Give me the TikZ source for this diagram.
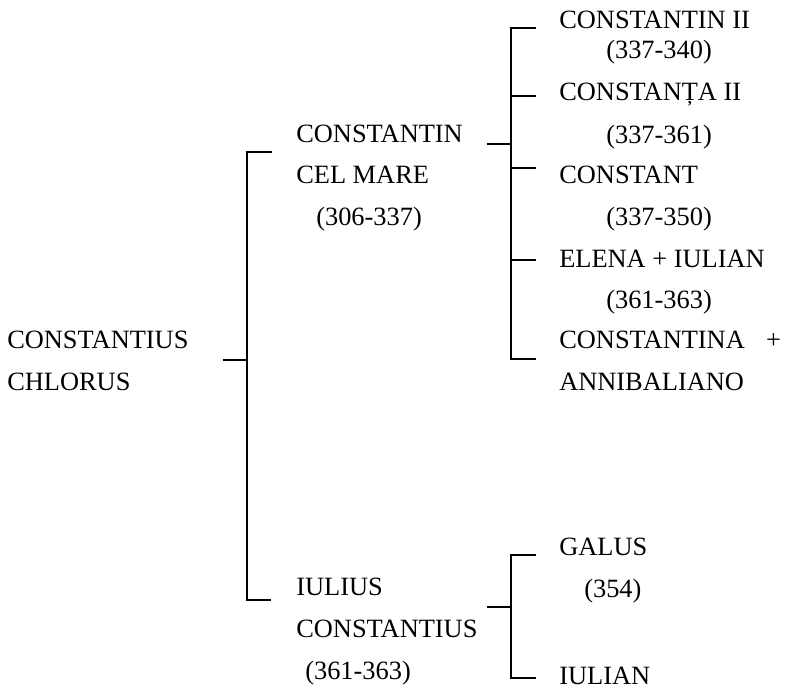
\documentclass[tikz,border=0pt]{standalone}
\usepackage{fontspec}
\setmainfont{Liberation Serif}
\begin{document}
\begin{tikzpicture}[x=0.75pt,y=-0.75pt,
    every node/.style={inner sep=0pt, anchor=base west,
      font=\fontsize{19.8pt}{24pt}\selectfont},
    branch/.style={line width=1.5pt}]
  \useasboundingbox (0,0) rectangle (788,690);
  % Constantius Chlorus
  \node (cc1) at (7,348) {CONSTANTIUS};
  \node (cc2) at (7,390) {CHLORUS};
  % his sons
  \node (cm1) at (296,142) {CONSTANTIN};
  \node (cm2) at (296,183) {CEL MARE};
  \node (cm3) at (316,225) {(306-337)};
  \node (ic1) at (296,595) {IULIUS};
  \node (ic2) at (296,637) {CONSTANTIUS};
  \node (ic3) at (305,679) {(361-363)};
  % children of Constantin
  \foreach \txt/\xx/\yy [count=\i] in {
      {CONSTANTIN II}/559/28, {(337-340)}/606/58,
      {CONSTANȚA II}/559/100, {(337-361)}/606/143,
      {CONSTANT}/559/183, {(337-350)}/606/225,
      {ELENA + IULIAN}/559/267, {(361-363)}/606/308,
      {CONSTANTINA\hspace{16pt}+}/559/348, {ANNIBALIANO}/559/390}
    \node (r\i) at (\xx,\yy) {\txt};
  % children of Iulius
  \node (ga1) at (559,555) {GALUS};
  \node (ga2) at (584,597) {(354)};
  \node (iu1) at (559,684) {IULIAN};

  % first fork
  \coordinate (cc-out) at (222.7,360);
  \coordinate (cc-fork) at (246.7,360);
  \coordinate (cm-in) at (271.7,151.7);
  \coordinate (ic-in) at (271,600);
  \draw[branch] (cc-out) -- (cc-fork);
  \draw[branch] (cm-in) -| (cc-fork) |- (ic-in);
  % second fork
  \coordinate (cm-out) at (486.7,144);
  \coordinate (cm-fork) at (511,144);
  \foreach \yy [count=\i] in {28,96,168,260,359}
    \coordinate (k\i) at (536,\yy);
  \draw[branch] (cm-out) -- (cm-fork);
  \draw[branch] (k1) -| (cm-fork) |- (k5);
  \foreach \i in {2,3,4}
    \draw[branch] (k\i) -- (k\i -| cm-fork);
  % third fork
  \coordinate (ic-out) at (486.7,607.3);
  \coordinate (ic-fork) at (511,607.3);
  \coordinate (ga-in) at (536,555);
  \coordinate (iu-in) at (536,678);
  \draw[branch] (ic-out) -- (ic-fork);
  \draw[branch] (ga-in) -| (ic-fork) |- (iu-in);
\end{tikzpicture}
\end{document}
